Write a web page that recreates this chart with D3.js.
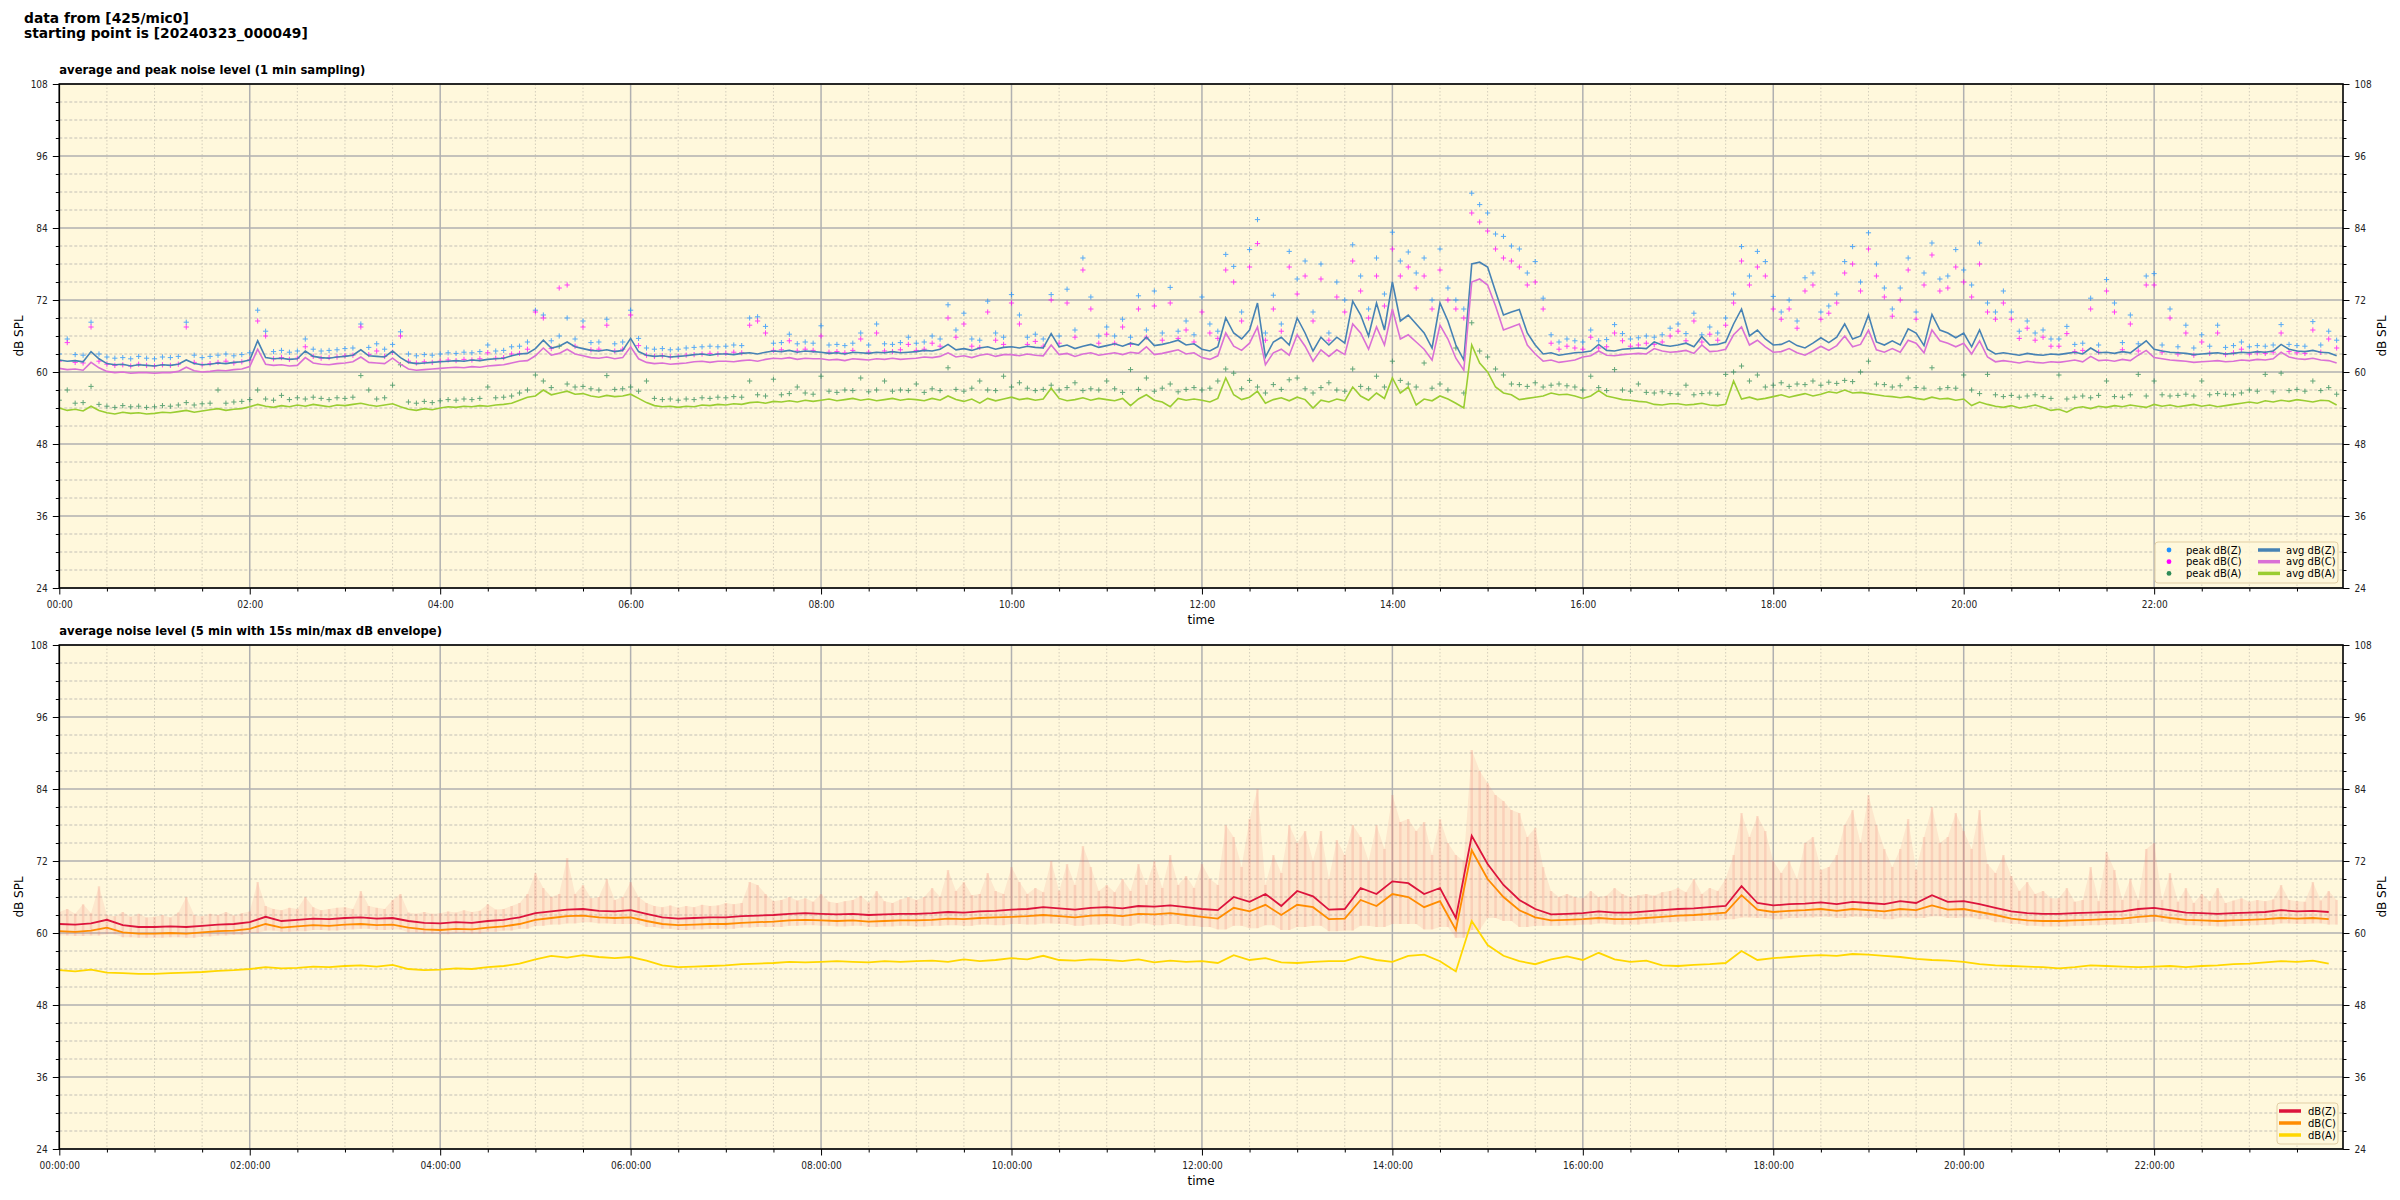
<!DOCTYPE html>
<html><head><meta charset="utf-8">
<script src="https://cdn.jsdelivr.net/npm/d3@7"></script>
<style>body{margin:0;background:#fff}</style>
</head><body>
<svg id="c" width="2400" height="1200" xmlns="http://www.w3.org/2000/svg"></svg>
<script>
// ---------- DATA ----------
// top panel: 5-minute steps from 00:00 (288 values)
const avgZ = [
62.0,61.8,61.9,61.7,63.4,62.2,61.4,61.2,61.3,61.0,61.2,61.1,
61.0,61.2,61.1,61.3,62.0,61.4,61.2,61.3,61.5,61.4,61.6,61.7,
62.0,65.2,62.4,62.2,62.3,62.1,62.2,63.5,62.6,62.4,62.3,62.5,
62.6,62.8,63.7,62.7,62.6,62.5,63.5,62.4,61.6,61.4,61.5,61.6,
61.7,61.8,61.9,61.8,62.0,61.9,62.1,62.2,62.3,62.7,63.0,63.1,
63.9,65.3,64.0,64.3,65.0,64.2,63.9,63.6,63.5,63.7,63.4,63.6,
65.6,63.4,62.8,62.6,62.7,62.5,62.6,62.7,62.9,63.0,62.8,63.0,
63.0,62.9,63.1,63.2,63.0,63.3,63.5,63.4,63.6,63.3,63.5,63.4,
63.3,63.1,63.2,63.0,63.3,63.2,63.1,63.3,63.2,63.4,63.2,63.3,
63.4,63.6,63.5,63.8,64.6,63.7,63.9,63.6,64.0,64.2,63.8,64.1,
64.2,64.0,64.3,64.1,64.0,66.4,64.2,64.5,63.9,64.3,64.6,64.1,
64.4,64.7,64.3,64.8,64.5,65.8,64.4,64.6,64.9,65.3,64.5,64.7,
63.8,63.5,64.2,69.0,66.5,65.5,67.0,71.5,62.5,65.0,65.8,64.5,
69.0,66.5,63.5,65.8,64.5,65.8,64.8,71.8,69.5,66.0,71.5,67.0,
75.0,68.5,69.5,68.0,66.5,64.0,71.5,68.5,64.5,62.0,78.0,78.3,
77.5,73.4,69.5,70.0,70.4,66.5,64.5,63.0,63.2,62.8,63.0,63.2,
63.3,63.5,64.6,63.6,63.5,63.8,63.9,64.0,63.9,65.0,64.5,64.3,
64.5,64.8,64.2,65.9,64.5,64.6,65.0,68.0,70.5,66.0,67.0,65.5,
64.5,64.6,65.2,64.4,64.0,64.8,65.7,64.9,65.8,68.0,65.5,66.0,
69.5,65.0,64.5,65.2,64.5,67.2,66.5,64.4,69.6,67.0,66.5,65.7,
66.5,64.2,67.0,63.8,63.0,63.2,63.0,62.8,63.1,62.9,62.8,63.0,
62.9,63.1,63.3,63.0,64.0,63.2,63.3,63.1,63.4,63.2,64.2,65.2,
63.8,63.5,63.3,63.2,63.1,62.9,63.0,63.1,63.2,63.0,63.1,63.3,
63.2,63.4,63.3,63.5,64.6,63.8,63.5,63.4,63.6,63.3,63.2,62.7];
const avgC = [
60.6,60.4,60.5,60.3,61.6,60.7,60.1,59.9,60.0,59.8,59.9,59.9,
59.8,59.9,59.9,60.1,60.8,60.2,60.0,60.1,60.3,60.2,60.4,60.5,
60.9,63.8,61.3,61.1,61.2,61.0,61.1,62.4,61.5,61.3,61.2,61.4,
61.5,61.7,62.5,61.6,61.5,61.4,62.3,61.3,60.5,60.3,60.4,60.5,
60.6,60.7,60.8,60.7,60.9,60.8,61.0,61.1,61.2,61.5,61.8,61.9,
62.7,64.0,62.8,63.1,63.8,63.0,62.7,62.4,62.3,62.5,62.2,62.4,
64.2,62.2,61.6,61.4,61.5,61.3,61.4,61.5,61.7,61.8,61.6,61.8,
61.8,61.7,61.9,62.0,61.8,62.1,62.3,62.2,62.4,62.1,62.3,62.2,
62.2,62.0,62.1,61.9,62.2,62.1,62.0,62.2,62.1,62.3,62.1,62.2,
62.3,62.5,62.4,62.6,63.2,62.5,62.7,62.4,62.8,63.0,62.6,62.9,
62.9,62.7,63.0,62.8,62.7,64.5,62.9,63.1,62.6,63.0,63.2,62.8,
63.0,63.2,62.9,63.3,63.1,64.2,62.9,63.1,63.4,63.7,63.0,63.2,
62.4,62.1,62.7,66.5,64.3,63.6,64.8,67.5,61.2,63.2,63.8,62.8,
66.2,64.3,61.8,63.7,62.6,63.7,62.9,68.0,66.5,63.8,67.5,64.5,
70.5,65.5,66.2,65.0,63.8,62.0,67.8,65.5,62.3,60.3,75.0,75.5,
74.5,71.0,67.0,67.5,68.0,64.5,63.0,61.8,62.0,61.6,61.8,62.0,
62.5,62.7,63.5,62.8,62.7,62.9,63.0,63.1,63.0,63.9,63.5,63.3,
63.4,63.6,63.1,64.5,63.4,63.5,63.8,66.2,67.5,64.5,65.3,64.2,
63.3,63.4,63.9,63.2,62.8,63.5,64.3,63.6,64.4,66.0,64.2,64.6,
67.0,63.7,63.3,63.9,63.3,65.3,64.8,63.2,67.0,65.2,64.8,64.2,
64.8,63.0,65.2,62.5,61.7,61.9,61.7,61.5,61.8,61.6,61.5,61.7,
61.6,61.8,62.0,61.7,62.6,61.9,62.0,61.8,62.1,61.9,62.8,63.6,
62.4,62.2,62.0,61.9,61.8,61.6,61.7,61.8,61.9,61.7,61.8,62.0,
61.9,62.1,62.0,62.2,63.3,62.5,62.2,62.1,62.3,62.0,61.9,61.5];
const avgA = [
54.0,53.6,53.8,53.5,54.3,53.6,53.2,53.0,53.3,53.1,53.2,53.0,
53.1,53.3,53.2,53.4,53.6,53.3,53.5,53.7,53.9,53.6,53.8,53.9,
54.2,54.6,54.3,54.1,54.4,54.2,54.5,54.3,54.6,54.4,54.2,54.5,
54.4,54.6,54.8,54.5,54.3,54.5,54.7,54.2,53.8,53.6,53.9,53.7,
54.0,54.2,54.1,54.3,54.2,54.4,54.3,54.5,54.6,54.8,55.3,55.8,
56.0,57.0,56.2,56.5,56.8,56.3,56.4,56.0,55.8,56.1,55.9,56.0,
56.3,55.6,54.9,54.4,54.2,54.3,54.1,54.3,54.2,54.5,54.4,54.6,
54.5,54.7,54.6,54.9,55.0,54.8,55.1,55.0,55.2,55.0,55.3,55.1,
55.3,55.5,55.2,55.4,55.6,55.3,55.5,55.2,55.4,55.6,55.3,55.5,
55.4,55.2,55.6,55.3,56.0,55.4,55.1,55.5,54.8,55.6,55.2,55.5,
55.8,55.4,55.6,55.3,55.5,57.3,55.6,55.2,55.4,55.7,55.3,55.6,
55.4,55.2,55.6,54.4,55.5,56.2,55.3,55.0,54.2,55.6,55.3,55.5,
55.3,55.0,55.6,59.0,56.2,55.4,55.8,56.8,54.8,55.4,55.7,55.2,
55.8,55.4,54.0,55.3,55.0,55.5,55.2,57.5,56.0,55.3,56.5,55.6,
59.0,56.5,57.5,54.5,55.5,55.2,56.0,55.5,54.8,54.0,64.5,61.5,
60.0,57.5,56.5,56.2,55.4,55.6,55.8,56.0,56.5,56.2,56.3,56.0,
55.6,56.0,56.9,56.0,55.7,55.4,55.3,55.1,55.0,54.6,54.5,54.7,
54.7,54.5,54.6,54.8,54.5,54.4,54.6,58.5,55.5,55.8,55.4,55.6,
55.9,56.2,55.8,56.1,56.4,56.0,56.3,56.7,56.5,57.0,56.5,56.6,
56.4,56.2,56.0,55.9,55.7,55.9,55.6,55.4,55.8,55.5,55.6,55.3,
55.5,54.4,55.0,54.6,54.3,54.1,54.4,54.0,54.2,54.5,54.1,53.6,
53.8,53.3,54.0,54.2,53.9,54.3,54.1,54.4,54.2,54.5,54.3,54.1,
54.6,54.3,54.5,54.2,54.4,54.6,54.3,54.5,54.2,54.4,54.6,54.8,
55.0,54.8,55.2,55.0,55.3,55.1,55.4,55.2,55.0,55.3,55.2,54.5];
const peakZ = [
63.0,65.5,62.9,62.8,68.3,63.0,62.5,62.3,62.4,62.2,62.6,62.3,
62.2,62.5,62.4,62.6,68.3,62.8,62.4,62.6,62.8,63.0,62.7,62.9,
63.2,70.3,66.8,63.4,63.6,63.3,63.5,65.5,63.8,63.5,63.6,63.7,
63.9,64.0,68.0,64.1,64.7,63.8,64.6,66.7,63.0,62.7,62.9,62.8,
63.0,63.2,63.1,63.3,63.2,63.4,64.5,63.5,63.6,64.2,64.3,65.0,
70.3,69.5,65.2,66.0,69.0,65.5,68.5,64.9,65.0,68.8,64.7,65.0,
70.3,65.6,64.0,63.8,63.9,63.7,63.8,64.0,64.1,64.2,64.3,64.2,
64.3,64.5,64.4,69.0,69.2,67.6,64.8,64.9,66.3,64.7,65.0,64.8,
67.7,64.5,64.6,64.4,64.8,66.5,64.5,68.0,64.7,64.6,64.9,65.8,
64.8,65.0,66.0,65.5,71.2,67.0,69.8,65.5,65.3,71.8,66.5,65.8,
72.9,69.5,65.8,66.3,65.5,72.9,66.0,73.8,67.0,79.0,72.5,66.0,
67.5,66.0,68.8,65.8,72.7,67.0,73.5,66.5,74.1,66.8,68.5,66.2,
72.5,68.0,66.8,79.6,77.6,70.0,80.4,85.4,66.5,72.8,68.0,80.1,
75.5,78.5,70.0,78.0,66.5,75.0,72.0,81.2,76.0,70.5,79.0,73.0,
83.3,78.5,80.0,76.5,79.0,72.0,80.5,74.0,72.0,70.5,89.8,87.9,
86.5,83.0,82.6,81.0,80.5,76.5,78.4,72.3,66.2,65.0,65.5,65.2,
65.0,67.0,65.2,65.4,67.9,66.4,65.5,65.7,66.0,65.8,66.2,67.3,
68.0,66.4,69.8,66.2,67.5,66.5,69.0,73.0,80.9,76.0,80.1,78.4,
72.6,70.0,72.0,68.5,75.7,76.5,70.0,71.0,73.0,78.4,80.9,75.0,
83.2,78.0,74.0,70.5,74.0,79.0,70.0,76.5,81.5,75.5,76.0,80.4,
77.0,74.5,81.5,71.5,70.0,73.5,70.0,66.8,68.5,66.5,67.0,65.5,
65.5,67.6,64.6,64.8,72.3,64.5,75.4,71.5,64.9,69.5,64.7,76.0,
76.4,64.5,70.5,64.2,67.8,64.0,66.2,64.3,67.8,64.1,64.4,65.0,
64.2,64.4,64.3,64.5,67.9,64.6,64.4,64.3,68.4,64.5,66.8,65.3];
const peakC = [
61.8,64.9,61.6,61.5,67.5,61.8,61.3,61.1,61.2,61.0,61.3,61.1,
61.0,61.2,61.1,61.3,67.5,61.6,61.2,61.4,61.6,61.8,61.5,61.7,
62.0,68.5,66.0,62.2,62.4,62.1,62.3,64.2,62.6,62.3,62.4,62.5,
62.7,62.8,67.5,62.9,63.5,62.6,63.3,66.0,61.8,61.5,61.7,61.6,
61.8,62.0,61.9,62.1,62.0,62.2,63.2,62.3,62.4,63.0,63.1,63.8,
70.0,69.0,63.9,74.0,74.5,64.3,67.5,63.7,63.8,67.8,63.5,63.8,
69.5,64.4,62.8,62.6,62.7,62.5,62.6,62.8,62.9,63.0,63.1,63.0,
63.1,63.3,63.2,67.8,68.5,66.5,63.6,63.7,65.2,63.5,63.8,63.6,
66.0,63.3,63.4,63.2,63.6,65.5,63.3,66.5,63.5,63.4,63.7,64.6,
63.6,63.8,64.8,64.3,69.0,65.8,68.0,64.3,64.1,70.0,65.3,64.6,
71.5,68.0,64.6,65.1,64.3,72.0,64.8,71.5,65.8,77.0,70.5,64.8,
66.3,64.8,67.5,64.6,70.5,65.8,71.0,65.3,71.5,65.6,67.0,65.0,
70.0,66.5,65.6,77.0,75.0,68.5,77.5,81.4,65.3,70.5,66.8,77.5,
73.0,76.0,68.5,75.5,65.3,72.5,70.0,78.5,73.5,69.0,76.0,71.0,
80.5,76.0,77.5,74.0,76.0,70.5,77.0,72.0,70.5,69.0,86.5,85.0,
83.5,80.5,79.0,78.5,77.5,74.5,75.0,70.5,64.8,63.8,64.3,64.0,
63.8,65.8,64.0,64.2,66.5,65.2,64.3,64.5,64.8,64.6,65.0,66.0,
66.8,65.2,68.5,65.0,66.3,65.3,67.8,71.5,78.5,74.5,77.5,76.0,
70.5,68.8,70.5,67.3,73.5,74.5,68.8,69.8,71.5,76.5,78.0,73.5,
80.5,76.0,72.5,69.3,72.0,77.0,68.8,74.5,79.5,73.5,74.0,77.5,
75.0,72.5,78.0,70.0,68.8,71.5,68.8,65.6,67.3,65.3,65.8,64.3,
64.3,66.4,63.4,63.6,70.5,63.3,73.5,70.0,63.7,68.0,63.5,74.5,
74.5,63.3,69.0,63.0,66.5,62.8,65.0,63.1,66.5,62.9,63.2,63.8,
63.0,63.2,63.1,63.3,66.5,63.4,63.2,63.1,67.0,63.3,65.5,64.0];
const peakA = [
55.3,57.0,54.8,54.9,57.6,54.6,54.3,54.1,54.4,54.2,54.3,54.1,
54.2,54.4,54.3,54.5,54.9,54.5,54.7,54.8,57.0,54.8,55.0,55.1,
55.4,57.0,55.5,55.3,56.1,55.4,55.7,55.5,55.8,55.6,55.4,55.7,
55.6,55.8,59.4,57.0,55.5,55.7,57.8,61.2,55.0,54.8,55.1,54.9,
55.2,55.4,55.3,55.5,55.4,55.6,57.5,55.7,55.8,56.0,56.5,57.0,
59.5,58.5,57.4,64.3,58.0,57.5,57.6,57.2,57.0,59.4,57.1,57.2,
57.5,56.8,58.5,55.6,55.4,55.5,55.3,55.5,55.4,55.7,55.6,55.8,
55.7,55.9,55.8,58.5,56.2,56.0,58.8,56.2,56.4,57.5,56.5,56.3,
59.3,56.8,56.6,57.0,56.9,59.0,56.7,57.0,58.5,56.8,57.0,56.9,
58.0,56.6,57.2,56.9,60.7,57.1,56.8,57.3,58.5,57.0,56.9,59.3,
57.5,58.2,57.3,56.9,57.1,57.8,57.0,57.4,58.2,56.9,57.2,57.0,
58.5,57.2,56.6,60.4,57.1,59.0,56.8,57.3,58.0,56.7,57.1,57.4,
57.0,57.3,58.5,60.5,59.8,57.2,58.6,57.5,56.5,57.9,57.1,58.7,
59.0,57.2,56.5,57.4,58.2,57.0,56.8,60.5,57.6,57.2,59.3,57.5,
61.8,58.6,58.0,57.5,61.5,57.3,58.0,57.0,64.0,56.5,68.2,63.5,
62.5,60.5,59.5,58.0,57.9,57.6,58.2,57.5,57.8,58.0,57.7,57.5,
57.0,59.3,57.4,56.9,60.4,57.0,56.8,58.0,56.6,56.5,56.7,56.4,
56.3,57.8,56.2,56.4,56.5,56.3,59.6,60.0,61.0,58.5,59.5,57.5,
57.8,58.2,57.6,58.0,57.9,58.5,57.8,58.3,58.1,58.6,58.4,60.0,
61.8,58.0,57.9,57.5,57.7,59.0,57.4,57.3,60.7,57.2,57.4,57.3,
59.5,57.0,56.4,59.6,56.2,55.9,56.1,55.8,56.0,56.2,55.9,55.6,
59.5,55.5,55.8,56.0,55.7,56.1,58.5,55.9,55.8,56.2,59.6,56.0,
58.5,56.2,56.0,56.1,56.3,56.0,58.5,56.2,56.4,56.3,56.2,56.5,
57.0,56.8,59.6,56.7,59.8,56.9,57.1,56.8,58.5,56.9,57.4,56.3];

// bottom panel: 5-min averages sampled every 10 minutes (144 values)
const lvlZ = [
61.5,61.4,61.6,62.2,61.3,61.0, 61.0,61.1,61.0,61.2,61.4,61.5,
61.8,62.7,62.0,62.2,62.4,62.3, 62.5,62.6,62.4,62.5,62.0,61.7,
61.6,61.8,61.7,62.0,62.2,62.6, 63.3,63.6,63.9,64.0,63.7,63.6,
63.8,63.2,62.6,62.4,62.5,62.6, 62.6,62.8,62.9,63.0,63.2,63.3,
63.2,63.1,63.2,63.0,63.1,63.2, 63.2,63.3,63.5,63.4,63.6,63.7,
63.9,64.0,64.3,64.1,63.9,64.2, 64.3,64.1,64.5,64.4,64.6,64.3,
64.0,63.8,66.0,65.2,66.5,64.5, 67.0,66.1,63.9,64.0,67.5,66.5,
68.6,68.3,66.5,67.5,62.5,76.2, 71.5,68.0,65.5,64.0,63.1,63.2,
63.3,63.6,63.4,63.4,63.6,63.8, 64.0,64.1,64.3,64.5,67.8,65.0,
64.6,64.8,64.9,65.1,64.8,65.2, 65.0,64.8,65.3,65.0,66.3,65.2,
65.3,64.8,64.2,63.6,63.3,63.2, 63.2,63.3,63.4,63.5,63.6,64.0,
64.2,63.8,63.4,63.3,63.2,63.3, 63.4,63.5,63.8,63.6,63.7,63.5];
const lvlC = [
60.3,60.2,60.4,60.9,60.1,59.9, 59.9,60.0,59.9,60.1,60.3,60.4,
60.7,61.5,60.9,61.1,61.3,61.2, 61.4,61.5,61.3,61.4,60.9,60.6,
60.5,60.7,60.6,60.9,61.1,61.5, 62.2,62.5,62.8,62.9,62.6,62.5,
62.6,62.0,61.5,61.3,61.4,61.5, 61.5,61.7,61.8,61.9,62.1,62.2,
62.1,62.0,62.1,61.9,62.0,62.1, 62.1,62.2,62.4,62.3,62.5,62.6,
62.7,62.8,63.0,62.8,62.6,62.9, 63.0,62.8,63.2,63.1,63.3,63.0,
62.7,62.4,64.2,63.6,64.7,63.0, 64.7,64.3,62.3,62.4,65.5,64.5,
66.5,66.0,64.3,65.3,60.5,73.8, 69.0,66.0,63.8,62.6,62.1,62.2,
62.3,62.5,62.3,62.3,62.5,62.7, 62.9,63.0,63.2,63.4,66.3,63.9,
63.5,63.7,63.8,64.0,63.7,64.0, 63.8,63.6,64.0,63.8,64.6,63.9,
64.0,63.5,63.0,62.4,62.1,62.0, 62.0,62.1,62.2,62.3,62.4,62.7,
62.9,62.5,62.2,62.1,62.0,62.1, 62.2,62.3,62.5,62.4,62.5,62.3];
const lvlA = [
53.8,53.6,53.9,53.4,53.3,53.2, 53.2,53.3,53.4,53.5,53.7,53.8,
54.0,54.3,54.1,54.2,54.4,54.3, 54.5,54.6,54.4,54.7,54.0,53.8,
53.9,54.1,54.0,54.3,54.5,54.9, 55.6,56.2,55.9,56.3,56.0,55.8,
56.0,55.4,54.6,54.3,54.4,54.5, 54.6,54.8,54.9,55.0,55.2,55.1,
55.2,55.3,55.2,55.1,55.3,55.2, 55.3,55.4,55.2,55.6,55.3,55.5,
55.8,55.6,56.2,55.5,55.4,55.6, 55.5,55.3,55.6,55.1,55.4,55.2,
55.3,55.0,56.3,55.5,55.8,55.1, 55.0,55.2,55.3,55.3,56.1,55.5,
55.2,56.2,56.4,55.3,53.6,62.0, 58.0,56.2,55.3,54.8,55.6,56.1,
55.5,56.7,55.6,55.2,55.4,54.6, 54.5,54.7,54.8,55.0,57.0,55.5,
55.8,56.0,56.2,56.3,56.2,56.5, 56.4,56.2,56.0,55.7,55.5,55.4,
55.2,54.8,54.6,54.5,54.4,54.3, 54.1,54.3,54.6,54.5,54.4,54.3,
54.4,54.5,54.3,54.5,54.6,54.8, 54.9,55.1,55.3,55.2,55.4,54.9];
// 15 s min/max envelope: max every 5 min (288), min every 10 min (144)
const envMax = [
63.5,64.0,63.2,64.8,63.3,67.8,63.0,62.8,63.5,62.7,63.2,62.6,
62.7,63.0,62.6,63.4,66.0,63.0,62.8,63.2,63.0,63.5,62.9,63.3,
63.6,68.5,64.5,64.0,63.8,64.2,64.0,66.0,64.3,63.8,64.0,64.2,
64.3,64.0,67.0,64.5,64.2,64.0,65.5,66.5,63.4,63.2,63.5,63.2,
63.3,63.6,63.4,63.8,63.5,63.7,64.8,63.9,64.0,64.5,65.0,66.5,
70.0,67.5,66.0,66.5,72.5,66.5,68.0,65.8,66.0,69.0,65.5,66.0,
68.5,66.0,65.0,64.5,64.3,64.6,64.2,64.5,64.3,64.7,64.5,64.6,
65.0,64.8,65.0,68.5,68.0,66.5,65.3,65.5,66.0,65.4,65.8,65.2,
66.5,65.2,65.0,65.3,65.5,66.2,65.1,67.0,65.3,65.0,65.6,66.0,
65.5,66.0,67.5,66.0,70.5,67.0,68.5,66.3,66.5,70.0,67.0,66.5,
71.0,68.5,66.5,67.5,66.8,72.0,67.0,71.5,68.0,74.5,71.0,67.0,
68.0,66.8,69.0,67.0,71.5,68.0,72.0,67.5,73.0,68.0,69.5,67.5,
71.5,69.0,68.0,78.0,76.0,71.0,79.0,84.0,68.0,73.0,70.0,78.0,
75.0,77.0,72.0,77.0,69.0,75.5,73.0,78.0,76.0,72.0,78.0,74.0,
83.0,78.5,79.0,77.0,78.5,73.0,79.0,75.0,73.0,72.0,90.5,87.0,
85.0,83.0,82.0,80.5,80.0,76.0,77.5,71.0,67.0,66.0,66.5,66.0,
65.8,67.0,66.0,66.2,67.5,66.5,66.0,66.3,66.5,66.2,66.8,67.0,
67.5,66.8,69.0,66.5,67.5,67.0,69.0,73.0,80.0,76.0,79.5,77.0,
72.0,70.0,72.0,69.0,75.0,76.0,70.5,71.0,73.0,78.0,80.5,75.0,
83.0,78.0,74.0,71.0,74.0,79.0,70.5,76.0,81.0,75.0,76.0,80.0,
77.0,74.0,80.5,71.5,70.0,73.0,69.5,67.0,68.5,66.5,67.0,65.8,
65.8,67.5,65.2,65.5,71.0,65.3,73.5,70.5,65.5,69.0,65.5,74.0,
75.0,65.5,70.0,65.2,67.5,65.0,66.5,65.3,67.5,65.0,65.4,65.8,
65.2,65.5,65.3,65.6,68.0,65.5,65.3,65.2,68.5,65.4,67.0,65.5];
const envMin = [
59.6,59.5,59.6,59.8,59.3,59.2, 59.2,59.3,59.2,59.4,59.6,59.7,
60.0,60.4,60.2,60.3,60.5,60.4, 60.6,60.7,60.5,60.6,60.1,59.9,
59.8,60.0,59.9,60.2,60.4,60.7, 61.2,61.4,61.6,61.8,61.6,61.5,
61.5,61.0,60.7,60.5,60.6,60.7, 60.7,60.9,61.0,61.0,61.2,61.3,
61.2,61.1,61.2,61.0,61.1,61.2, 61.1,61.2,61.3,61.2,61.4,61.3,
61.5,61.4,61.6,61.5,61.2,61.4, 61.5,61.2,61.6,61.3,61.5,61.2,
61.0,60.6,61.2,60.8,61.3,60.5, 61.0,61.2,60.3,60.4,61.2,61.0,
61.5,61.5,60.6,61.0,59.2,60.5, 62.5,62.0,61.0,61.2,61.2,61.3,
61.4,61.6,61.4,61.4,61.6,61.8, 61.9,62.0,62.1,62.3,62.6,62.5,
62.3,62.5,62.6,62.7,62.5,62.7, 62.5,62.3,62.6,62.5,62.8,62.5,
62.6,62.3,61.8,61.5,61.2,61.1, 61.1,61.2,61.3,61.4,61.5,61.7,
61.9,61.6,61.3,61.2,61.1,61.2, 61.3,61.4,61.6,61.5,61.6,61.4];

const yTicks = [24, 36, 48, 60, 72, 84, 96, 108];
const topLegend = [
  {label: "peak dB(Z)", color: "#1e90ff", kind: "dot"},
  {label: "peak dB(C)", color: "#ff00ff", kind: "dot"},
  {label: "peak dB(A)", color: "#2e8b57", kind: "dot"},
  {label: "avg dB(Z)", color: "#4682b4", kind: "line"},
  {label: "avg dB(C)", color: "#da70d6", kind: "line"},
  {label: "avg dB(A)", color: "#9acd32", kind: "line"}];
const botLegend = [
  {label: "dB(Z)", color: "#dc143c"},
  {label: "dB(C)", color: "#ff8c00"},
  {label: "dB(A)", color: "#ffd700"}];

// ---------- DRAWING ----------
const svg = d3.select("#c");
const FONT = "DejaVu Sans, sans-serif";
const TICKFONT = "'Liberation Sans Narrow', 'DejaVu Sans Condensed', 'DejaVu Sans', sans-serif";
const T0 = Date.UTC(2024, 2, 23, 0, 0, 0);
const MIN = 60000;
const L = 59.3, R = 2343;
const x = d3.scaleUtc().domain([new Date(T0), new Date(T0 + 1439 * MIN)]).range([L, R]);
const t5 = i => new Date(T0 + i * 5 * MIN);
const t10 = i => new Date(T0 + i * 10 * MIN);

svg.append("text").attr("x", 24).attr("y", 23).attr("font-family", FONT).attr("font-weight", "bold")
  .attr("font-size", 13.8).text("data from [425/mic0]");
svg.append("text").attr("x", 24).attr("y", 38).attr("font-family", FONT).attr("font-weight", "bold")
  .attr("font-size", 13.8).text("starting point is [20240323_000049]");

function panel(top, bottom, title, fmt, idx) {
  const y = d3.scaleLinear().domain([24, 108]).range([bottom, top]);
  const g = svg.append("g");
  const cid = "clip" + idx;
  svg.append("clipPath").attr("id", cid).append("rect")
    .attr("x", L).attr("y", top).attr("width", R - L).attr("height", bottom - top);
  g.append("rect").attr("x", L).attr("y", top).attr("width", R - L).attr("height", bottom - top)
    .attr("fill", "#fff8dc");
  // grids
  const minorY = d3.range(24, 109, 3).filter(v => v % 12 !== 0);
  const majorX = d3.utcHour.every(2).range(new Date(T0), x.domain()[1]);
  const minorX = d3.utcMinute.every(30).range(new Date(T0), x.domain()[1])
    .filter(d => !(d.getUTCMinutes() === 0 && d.getUTCHours() % 2 === 0));
  const grid = g.append("g");
  grid.selectAll(".mx").data(minorX).join("line")
    .attr("x1", d => x(d)).attr("x2", d => x(d)).attr("y1", top).attr("y2", bottom)
    .attr("stroke", "#c9c4b4").attr("stroke-width", 0.8).attr("stroke-dasharray", "1.5,2");
  grid.selectAll(".my").data(minorY).join("line")
    .attr("x1", L).attr("x2", R).attr("y1", d => y(d)).attr("y2", d => y(d))
    .attr("stroke", "#bcbab2").attr("stroke-width", 0.9).attr("stroke-dasharray", "3,2");
  grid.selectAll(".Mx").data(majorX).join("line")
    .attr("x1", d => x(d)).attr("x2", d => x(d)).attr("y1", top).attr("y2", bottom)
    .attr("stroke", "#b0b0b0").attr("stroke-width", 1.5);
  grid.selectAll(".My").data(yTicks).join("line")
    .attr("x1", L).attr("x2", R).attr("y1", d => y(d)).attr("y2", d => y(d))
    .attr("stroke", "#b0b0b0").attr("stroke-width", 1.5);

  const data = g.append("g").attr("clip-path", `url(#${cid})`);

  // axes
  const tickStyle = sel => {
    sel.attr("font-family", TICKFONT).attr("font-size", 10);
    sel.selectAll("text").attr("fill", "#222");
    sel.select(".domain").remove();
    sel.selectAll("line").attr("stroke", "#000");
  };
  g.append("g").attr("transform", `translate(${L},0)`)
    .call(d3.axisLeft(y).tickValues(yTicks).tickSize(6.5).tickPadding(5)).call(tickStyle);
  g.append("g").attr("transform", `translate(${L},0)`)
    .call(d3.axisLeft(y).tickValues(minorY).tickSize(3.5).tickFormat("")).call(tickStyle);
  g.append("g").attr("transform", `translate(${R},0)`)
    .call(d3.axisRight(y).tickValues(yTicks).tickSize(6.5).tickPadding(5)).call(tickStyle);
  g.append("g").attr("transform", `translate(${R},0)`)
    .call(d3.axisRight(y).tickValues(minorY).tickSize(3.5).tickFormat("")).call(tickStyle);
  g.append("g").attr("transform", `translate(0,${bottom})`)
    .call(d3.axisBottom(x).tickValues(majorX).tickSize(6.5).tickPadding(6).tickFormat(d3.utcFormat(fmt))).call(tickStyle);
  g.append("g").attr("transform", `translate(0,${bottom})`)
    .call(d3.axisBottom(x).tickValues(minorX).tickSize(3.5).tickFormat("")).call(tickStyle);

  g.append("rect").attr("x", L).attr("y", top).attr("width", R - L).attr("height", bottom - top)
    .attr("fill", "none").attr("stroke", "#000").attr("stroke-width", 1.6);

  g.append("text").attr("x", L).attr("y", top - 10).attr("font-family", FONT).attr("font-weight", "bold")
    .attr("font-size", 11.6).text(title);
  const cy = (top + bottom) / 2;
  g.append("text").attr("transform", `translate(23,${cy}) rotate(-90)`).attr("text-anchor", "middle")
    .attr("font-family", FONT).attr("font-size", 12).text("dB SPL");
  g.append("text").attr("transform", `translate(2386,${cy}) rotate(-90)`).attr("text-anchor", "middle")
    .attr("font-family", FONT).attr("font-size", 12).text("dB SPL");
  g.append("text").attr("x", (L + R) / 2).attr("y", bottom + 36).attr("text-anchor", "middle")
    .attr("font-family", FONT).attr("font-size", 12).text("time");
  return {y, data, g};
}

// ----- top panel -----
const P1 = panel(84, 588, "average and peak noise level (1 min sampling)", "%H:%M", 1);
const plus = "M-2.6,0H2.6M0,-2.6V2.6";
[[peakZ, "#1e90ff"], [peakC, "#ff00ff"], [peakA, "#2e8b57"]].forEach(([arr, col]) => {
  P1.data.append("g").selectAll("path").data(arr).join("path")
    .attr("transform", (d, i) => `translate(${x(t5(i))},${P1.y(d)})`)
    .attr("d", plus).attr("stroke", col).attr("stroke-width", 1).attr("opacity", 0.75);
});
[[avgZ, "#4682b4"], [avgC, "#da70d6"], [avgA, "#9acd32"]].forEach(([arr, col]) => {
  P1.data.append("path").datum(arr)
    .attr("d", d3.line().x((d, i) => x(t5(i))).y(d => P1.y(d)))
    .attr("fill", "none").attr("stroke", col).attr("stroke-width", 1.6);
});
// legend top
{
  const lg = P1.g.append("g");
  lg.append("rect").attr("x", 2155).attr("y", 542).attr("width", 183).attr("height", 41).attr("rx", 3)
    .attr("fill", "#fff8dc").attr("fill-opacity", 0.85).attr("stroke", "#e2cfa5").attr("stroke-width", 1);
  topLegend.forEach((e, i) => {
    const col = Math.floor(i / 3), row = i % 3;
    const yy = 550 + row * 11.7;
    if (e.kind === "dot") {
      lg.append("circle").attr("cx", 2169).attr("cy", yy).attr("r", 2.4).attr("fill", e.color);
      lg.append("text").attr("x", 2186).attr("y", yy + 3.5).attr("font-family", FONT).attr("font-size", 10).text(e.label);
    } else {
      lg.append("line").attr("x1", 2258).attr("x2", 2280).attr("y1", yy).attr("y2", yy)
        .attr("stroke", e.color).attr("stroke-width", 3.5);
      lg.append("text").attr("x", 2286).attr("y", yy + 3.5).attr("font-family", FONT).attr("font-size", 10).text(e.label);
    }
  });
}

// ----- bottom panel -----
const P2 = panel(645, 1149, "average noise level (5 min with 15s min/max dB envelope)", "%H:%M:%S", 2);
const envLow = (i) => envMin[Math.floor(i / 2)];
P2.data.append("path").datum(envMax)
  .attr("d", d3.area().x((d, i) => x(t5(i))).y1(d => P2.y(d)).y0((d, i) => P2.y(envLow(i))))
  .attr("fill", "#f08070").attr("fill-opacity", 0.14);
P2.data.append("g").selectAll("line").data(envMax).join("line")
  .attr("x1", (d, i) => x(t5(i))).attr("x2", (d, i) => x(t5(i)))
  .attr("y1", d => P2.y(d)).attr("y2", (d, i) => P2.y(envLow(i)))
  .attr("stroke", "#f08070").attr("stroke-opacity", 0.22).attr("stroke-width", 2.5);
[[lvlA, "#ffd700"], [lvlC, "#ff8c00"], [lvlZ, "#dc143c"]].forEach(([arr, col]) => {
  P2.data.append("path").datum(arr)
    .attr("d", d3.line().x((d, i) => x(t10(i))).y(d => P2.y(d)))
    .attr("fill", "none").attr("stroke", col).attr("stroke-width", 1.8);
});
{
  const lg = P2.g.append("g");
  lg.append("rect").attr("x", 2277).attr("y", 1103).attr("width", 61).attr("height", 41).attr("rx", 3)
    .attr("fill", "#fff8dc").attr("fill-opacity", 0.85).attr("stroke", "#e2cfa5").attr("stroke-width", 1);
  botLegend.forEach((e, i) => {
    const yy = 1111 + i * 12;
    lg.append("line").attr("x1", 2279).attr("x2", 2301).attr("y1", yy).attr("y2", yy)
      .attr("stroke", e.color).attr("stroke-width", 3.5);
    lg.append("text").attr("x", 2308).attr("y", yy + 3.5).attr("font-family", FONT).attr("font-size", 10).text(e.label);
  });
}
</script>
</body></html>
